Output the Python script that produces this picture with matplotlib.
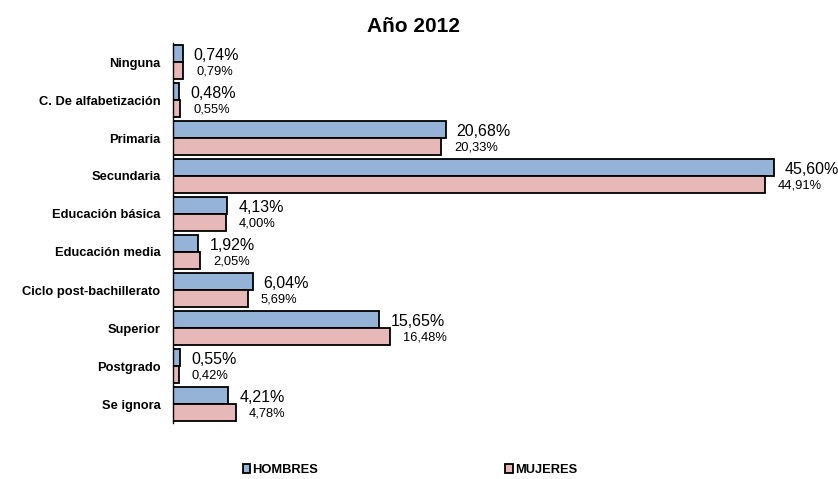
import numpy as np
import matplotlib.pyplot as plt

plt.rcParams['font.family'] = ['Liberation Sans', 'DejaVu Sans']

# Datos
categorias = ["Ninguna", "C. De alfabetización", "Primaria", "Secundaria",
              "Educación básica", "Educación media", "Ciclo post-bachillerato",
              "Superior", "Postgrado", "Se ignora"]
hombres = [0.74, 0.48, 20.68, 45.60, 4.13, 1.92, 6.04, 15.65, 0.55, 4.21]
mujeres = [0.79, 0.55, 20.33, 44.91, 4.00, 2.05, 5.69, 16.48, 0.42, 4.78]

col_h = '#95B3D7'
col_m = '#E6B9B8'

fig = plt.figure(figsize=(8.38, 4.79), dpi=100)
ax = fig.add_axes([173/838, 1 - 423/479, (800 - 173)/838, (423 - 43)/479])

y = np.arange(len(categorias))
h = 0.45
ax.barh(y - h/2, hombres, height=h, color=col_h, edgecolor='black', linewidth=1.3, label='HOMBRES')
ax.barh(y + h/2, mujeres, height=h, color=col_m, edgecolor='black', linewidth=1.3, label='MUJERES')

def fmt(v):
    return f"{v:.2f}%".replace('.', ',')

for i in range(len(categorias)):
    ax.annotate(fmt(hombres[i]), (hombres[i], y[i] - h/2), xytext=(11, -2),
                textcoords='offset pixels', va='center', ha='left', fontsize=11.5)
    ax.annotate(fmt(mujeres[i]), (mujeres[i], y[i] + h/2), xytext=(13, -1),
                textcoords='offset pixels', va='center', ha='left', fontsize=9.3)

ax.set_xlim(0, (800 - 173) / (601 / 45.6))
ax.set_ylim(len(categorias) - 0.5, -0.5)
ax.set_yticks(y)
ax.set_yticklabels(categorias, fontweight='bold', fontsize=9.3)
ax.tick_params(axis='y', length=0, pad=9)
ax.set_xticks([])
for s in ['top', 'right', 'bottom']:
    ax.spines[s].set_visible(False)
ax.spines['left'].set_linewidth(1.0)

fig.suptitle("Año 2012", x=413/838, y=1 - 17/479, fontsize=15, fontweight='bold', va='top')

leg = fig.legend(loc='center', bbox_to_anchor=(410/838, 1 - 470/479), ncol=2,
                 frameon=False, handlelength=0.6, handleheight=0.6, handletextpad=0.15,
                 columnspacing=14.5, prop={'weight': 'bold', 'size': 9.3})

fig.savefig('out.png', dpi=100)
